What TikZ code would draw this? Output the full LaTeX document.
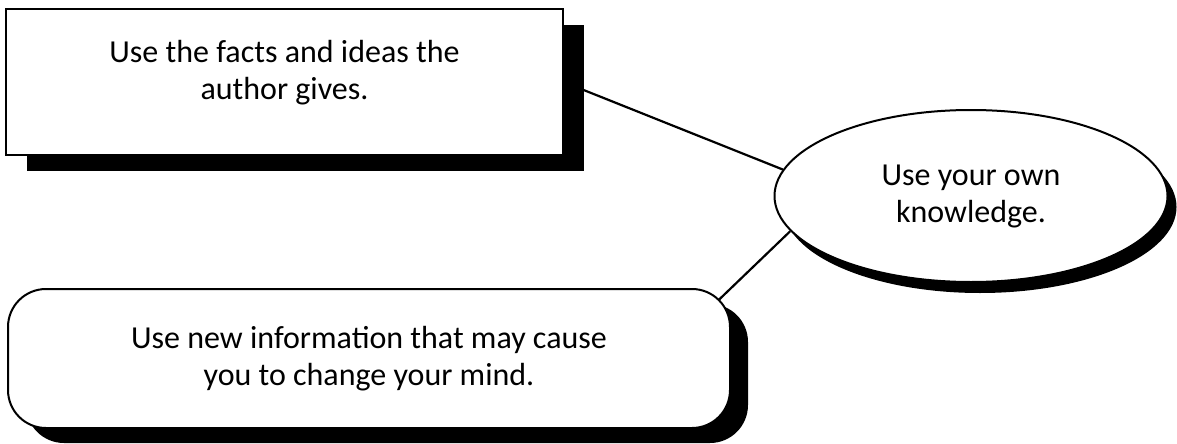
\documentclass[tikz,border=0pt]{standalone}
\usepackage{fontspec}
\setmainfont{Carlito}
\usetikzlibrary{positioning,shapes.geometric,shadows,backgrounds,calc}

\begin{document}
\begin{tikzpicture}[x=1pt, y=-1pt,
   box/.style={draw, fill=white, align=center, inner sep=0pt,
               font=\fontsize{32}{37}\selectfont},
   link/.style={line width=2.2pt},
]
\useasboundingbox (0,0) rectangle (1177,444);
% top left box
\node[box, line width=1.2pt, minimum width=557pt, minimum height=146pt, text depth=24pt,
      drop shadow={shadow xshift=21pt, shadow yshift=-16pt, fill=black, opacity=1}]
  (facts) at (284.5,82) {Use the facts and ideas the\\author gives.};
% ellipse on the right
\node[box, ellipse, line width=2pt, minimum width=393pt, minimum height=172pt,
      drop shadow={shadow xshift=9pt, shadow yshift=-11pt, fill=black, opacity=1}]
  (own) at (971,196) {Use your own\\knowledge.};
% bottom box
\node[box, rounded corners=38pt, line width=2pt, minimum width=722pt, minimum height=139pt,
      drop shadow={shadow xshift=18pt, shadow yshift=-15pt, fill=black, opacity=1}]
  (newinfo) at (369,358.5) {Use new information that may cause\\you to change your mind.};
% links
\begin{scope}[on background layer]
\draw[link] (facts.east) -- (own.172);
\draw[link] (own.191) -- ($(own.191)!1.2!(newinfo.11.5)$);
\end{scope}
\end{tikzpicture}
\end{document}
